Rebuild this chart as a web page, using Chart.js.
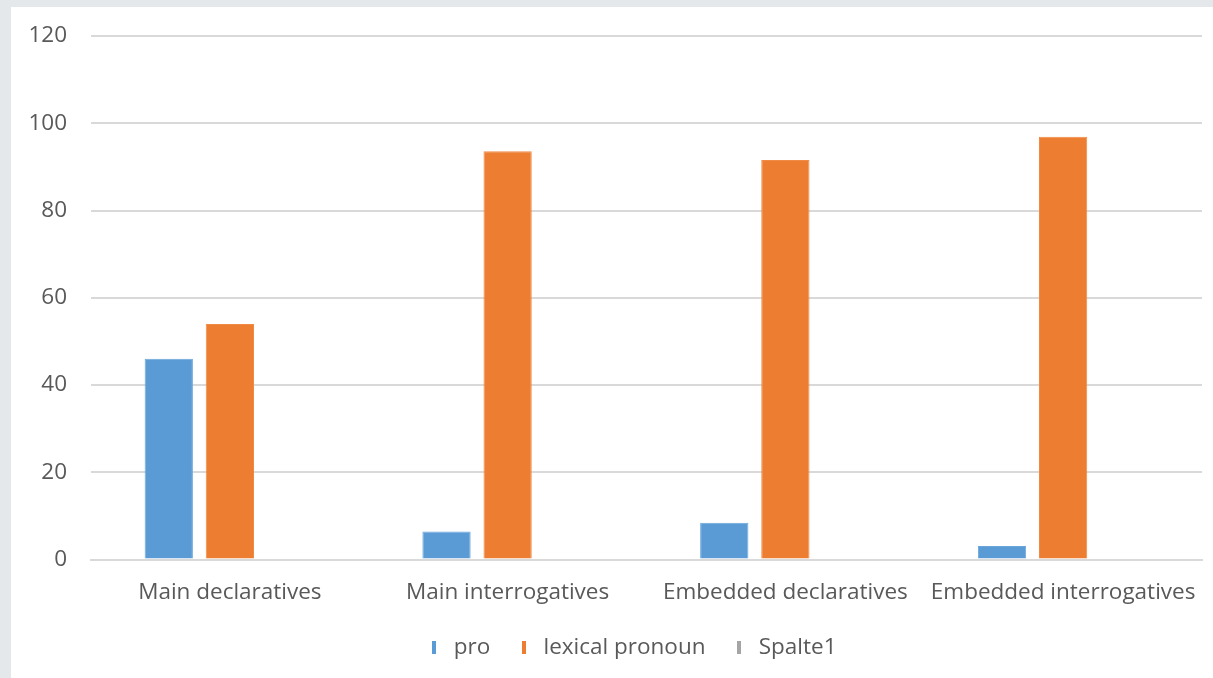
<!DOCTYPE html>
<html>
<head>
<meta charset="utf-8">
<script src="https://cdn.jsdelivr.net/npm/chart.js@4/dist/chart.umd.min.js"></script>
<style>
  html, body { margin: 0; padding: 0; }
  body { width: 1213px; height: 678px; background: #e4e8eb; position: relative; overflow: hidden; }
  #frame { position: absolute; left: 11px; top: 7px; width: 1202px; height: 671px; background: #ffffff; }
  #chart { display: block; }
</style>
</head>
<body>
<div id="frame"><canvas id="chart" width="1202" height="671"></canvas></div>
<script>
// Sentence types on the x axis
const categories = ["Main declaratives", "Main interrogatives", "Embedded declaratives", "Embedded interrogatives"];
// Percentages per series
const proValues = [46, 6.4, 8.4, 3.1];
const lexicalValues = [54, 93.6, 91.6, 96.9];
const spalte1Values = [null, null, null, null];
// Y axis range
const yMin = 0, yMax = 120, yStep = 20;

const textColor = "#595959";
const gridColor = "#d9d9d9";
const fontFamily = "'Open Sans', 'Noto Sans', sans-serif";
const fontSize = 22.5;

// Thin vertical legend marker, drawn as a small canvas image
function marker(color) {
  const c = document.createElement("canvas");
  c.width = 4; c.height = 13;
  const g = c.getContext("2d");
  g.fillStyle = color;
  g.fillRect(0, 0, 4, 13);
  return c;
}

const colors = ["#5b9bd5", "#ed7d31", "#a5a5a5"];

// Centre the legend row a little to the right, under the plot
const legendShift = {
  id: "legendShift",
  afterLayout(chart) {
    if (chart.legend) chart.legend.left += 50;
  }
};

new Chart(document.getElementById("chart"), {
  type: "bar",
  data: {
    labels: categories,
    datasets: [
      { label: "pro", data: proValues, backgroundColor: colors[0], borderColor: "#6aa6dc", borderWidth: 1, pointStyle: marker(colors[0]) },
      { label: "lexical pronoun", data: lexicalValues, backgroundColor: colors[1], borderColor: "#f08a45", borderWidth: 1, pointStyle: marker(colors[1]) },
      { label: "Spalte1", data: spalte1Values, backgroundColor: colors[2], borderColor: colors[2], borderWidth: 0, pointStyle: marker(colors[2]) }
    ]
  },
  plugins: [legendShift],
  options: {
    responsive: false,
    animation: false,
    layout: { padding: { top: 29, right: 11, left: 0, bottom: 9 } },
    datasets: { bar: { categoryPercentage: 0.66, barPercentage: 0.79 } },
    plugins: {
      tooltip: { enabled: false },
      legend: {
        position: "bottom",
        labels: {
          color: textColor,
          font: { family: fontFamily, size: fontSize },
          usePointStyle: true,
          pointStyleWidth: 16,
          boxHeight: 13,
          padding: 26,
          generateLabels: (chart) => {
            const items = Chart.defaults.plugins.legend.labels.generateLabels(chart);
            items.forEach((it, i) => { it.pointStyle = chart.data.datasets[i].pointStyle; });
            return items;
          }
        }
      }
    },
    scales: {
      x: {
        grid: { display: false },
        border: { display: true, color: gridColor, width: 2 },
        ticks: { color: textColor, font: { family: fontFamily, size: fontSize }, padding: 12, maxRotation: 0 },
        afterFit: (s) => { s.height = 51; s.paddingLeft = 0; s.paddingRight = 0; }
      },
      y: {
        min: yMin, max: yMax,
        ticks: { stepSize: yStep, color: textColor, font: { family: fontFamily, size: fontSize }, padding: 24 },
        grid: { color: gridColor, lineWidth: 2, drawTicks: false },
        border: { display: false },
        afterFit: (s) => { s.width = 80; s.paddingTop = 0; s.paddingBottom = 0; }
      }
    }
  }
});
</script>
</body>
</html>
